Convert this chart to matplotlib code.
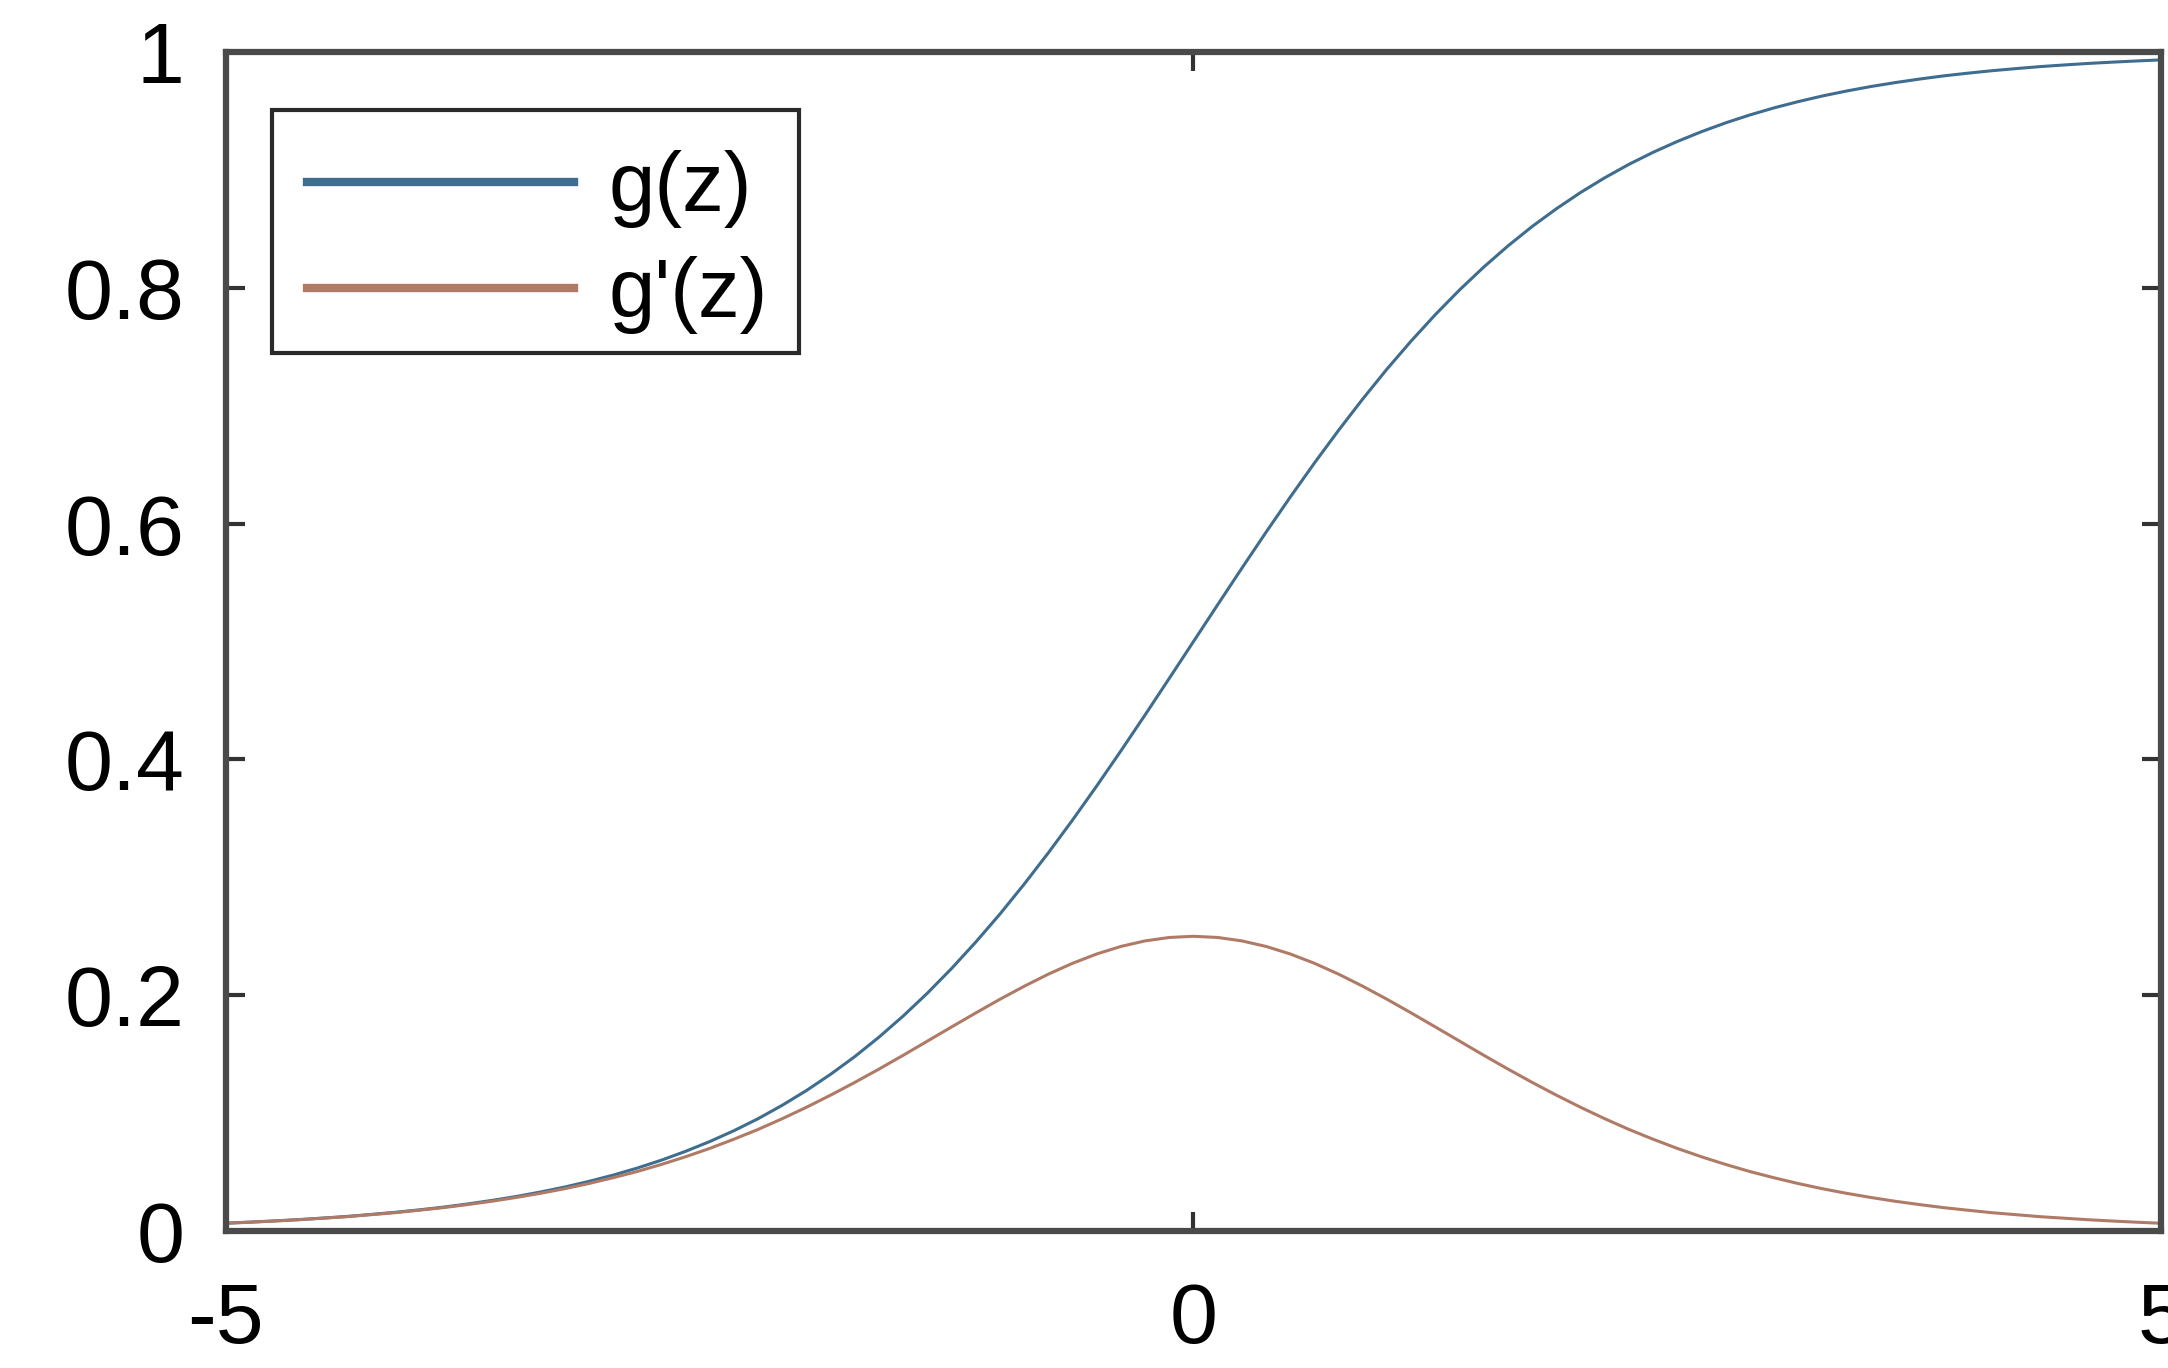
import matplotlib
matplotlib.use("Agg")
import matplotlib.pyplot as plt
from matplotlib.patches import Rectangle

plt.rcParams["font.family"] = ["Liberation Sans", "DejaVu Sans"]
plt.rcParams["axes.unicode_minus"] = False

# ---------------------------------------------------------------- data ----
z = [-5.0, -4.875, -4.75, -4.625, -4.5, -4.375, -4.25, -4.125,
     -4.0, -3.875, -3.75, -3.625, -3.5, -3.375, -3.25, -3.125,
     -3.0, -2.875, -2.75, -2.625, -2.5, -2.375, -2.25, -2.125,
     -2.0, -1.875, -1.75, -1.625, -1.5, -1.375, -1.25, -1.125,
     -1.0, -0.875, -0.75, -0.625, -0.5, -0.375, -0.25, -0.125,
     0.0,
     0.125, 0.25, 0.375, 0.5, 0.625, 0.75, 0.875, 1.0,
     1.125, 1.25, 1.375, 1.5, 1.625, 1.75, 1.875, 2.0,
     2.125, 2.25, 2.375, 2.5, 2.625, 2.75, 2.875, 3.0,
     3.125, 3.25, 3.375, 3.5, 3.625, 3.75, 3.875, 4.0,
     4.125, 4.25, 4.375, 4.5, 4.625, 4.75, 4.875, 5.0]
g = [0.0067, 0.0076, 0.0086, 0.0097, 0.0110, 0.0124, 0.0141, 0.0159,
     0.0180, 0.0203, 0.0230, 0.0260, 0.0293, 0.0331, 0.0373, 0.0421,
     0.0474, 0.0534, 0.0601, 0.0676, 0.0759, 0.0851, 0.0953, 0.1067,
     0.1192, 0.1330, 0.1480, 0.1645, 0.1824, 0.2018, 0.2227, 0.2451,
     0.2689, 0.2942, 0.3208, 0.3486, 0.3775, 0.4073, 0.4378, 0.4688,
     0.5000,
     0.5312, 0.5622, 0.5927, 0.6225, 0.6514, 0.6792, 0.7058, 0.7311,
     0.7549, 0.7773, 0.7982, 0.8176, 0.8355, 0.8520, 0.8670, 0.8808,
     0.8933, 0.9047, 0.9149, 0.9241, 0.9324, 0.9399, 0.9466, 0.9526,
     0.9579, 0.9627, 0.9669, 0.9707, 0.9740, 0.9770, 0.9797, 0.9820,
     0.9841, 0.9859, 0.9876, 0.9890, 0.9903, 0.9914, 0.9924, 0.9933]
dg = [0.0066, 0.0075, 0.0085, 0.0096, 0.0109, 0.0122, 0.0139, 0.0156,
      0.0177, 0.0199, 0.0225, 0.0253, 0.0285, 0.0320, 0.0359, 0.0403,
      0.0452, 0.0505, 0.0565, 0.0630, 0.0701, 0.0779, 0.0862, 0.0953,
      0.1050, 0.1153, 0.1261, 0.1374, 0.1491, 0.1611, 0.1731, 0.1850,
      0.1966, 0.2076, 0.2179, 0.2271, 0.2350, 0.2414, 0.2461, 0.2490,
      0.2500,
      0.2490, 0.2461, 0.2414, 0.2350, 0.2271, 0.2179, 0.2076, 0.1966,
      0.1850, 0.1731, 0.1611, 0.1491, 0.1374, 0.1261, 0.1153, 0.1050,
      0.0953, 0.0862, 0.0779, 0.0701, 0.0630, 0.0565, 0.0505, 0.0452,
      0.0403, 0.0359, 0.0320, 0.0285, 0.0253, 0.0225, 0.0199, 0.0177,
      0.0156, 0.0139, 0.0122, 0.0109, 0.0096, 0.0085, 0.0075, 0.0066]
series_labels = ["g(z)", "g'(z)"]
xticks = [-5, 0, 5]
xticklabels = ["-5", "0", "5"]
yticks = [0, 0.2, 0.4, 0.6, 0.8, 1]
yticklabels = ["0", "0.2", "0.4", "0.6", "0.8", "1"]

# ------------------------------------------------------------- plotting ----
fig = plt.figure(figsize=(21.68, 13.68), dpi=100)
ax = fig.add_axes([0.1042, 0.1001, 0.8926, 0.8619])

ax.plot(z, g, color="#3f6d8f", lw=2.2, label=series_labels[0])
ax.plot(z, dg, color="#b07b66", lw=2.2, label=series_labels[1])

ax.set_xlim(-5, 5)
ax.set_ylim(0, 1)
ax.set_xticks(xticks)
ax.set_xticklabels(xticklabels)
ax.set_yticks(yticks)
ax.set_yticklabels(yticklabels)
ax.tick_params(direction="in", length=14, width=3, color="#333333",
               labelsize=62, top=True, right=True)
ax.tick_params(axis="x", pad=36)
ax.tick_params(axis="y", pad=30)
for sp in ax.spines.values():
    sp.set_linewidth(4.5)
    sp.set_color("#4a4a4a")

# legend frame drawn by hand (axes fractions) so its padding matches MATLAB;
# the entries themselves are placed by the legend without a frame
ax.add_patch(Rectangle((0.0238, 0.7447), 0.2723, 0.2061, transform=ax.transAxes,
                       facecolor="white", edgecolor="#2a2a2a", lw=3,
                       zorder=4, clip_on=False))
leg = ax.legend(loc="center left", bbox_to_anchor=(0.0419, 0.8388),
                fontsize=60, handlelength=3.2, handletextpad=0.42,
                labelspacing=0.34, borderpad=0, borderaxespad=0,
                frameon=False)
leg.set_zorder(5)
for line in leg.get_lines():
    line.set_linewidth(6)

fig.savefig("out.png", dpi=100)
